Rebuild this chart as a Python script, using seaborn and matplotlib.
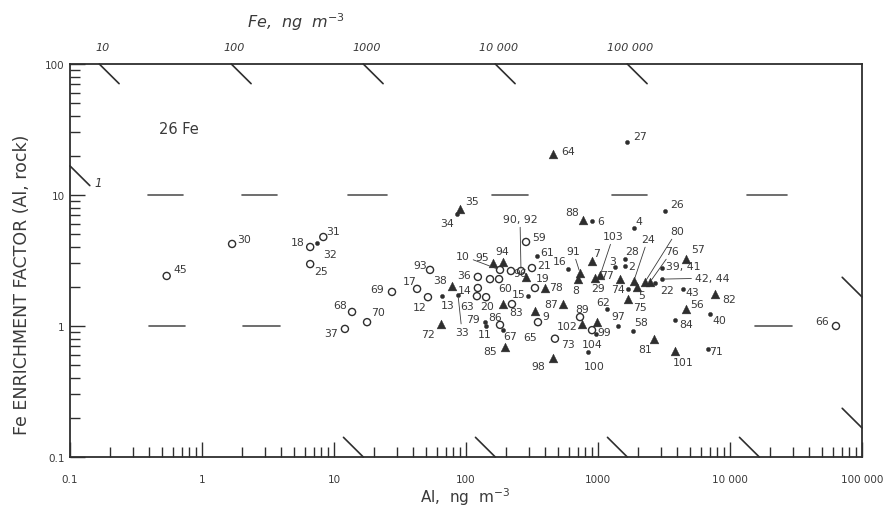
import matplotlib
matplotlib.use("Agg")
import matplotlib.pyplot as plt
import seaborn as sns
import pandas as pd
import numpy as np

# ---------------- data ----------------
circ_labels = ["45", "30", "18", "31", "25", "69", "68", "70", "37", "17", "93", "12", "66",
               "59", "90, 92", "21", "10", "96", "36", "", "60", "14", "63", "20", "86", "",
               "", "65", "73", "89", "99"]
circ_al = [0.54, 1.69, 6.6, 8.3, 6.6, 27.5, 13.7, 17.8, 12.1, 42.6, 53.4, 51.5, 63500,
           285, 261, 316, 181, 219, 123, 152, 178, 123, 121, 142, 181, 223,
           333, 351, 472, 731, 901]
circ_ef = [2.41, 4.23, 4.01, 4.78, 2.97, 1.82, 1.28, 1.07, 0.95, 1.92, 2.68, 1.66, 1.0,
           4.38, 2.63, 2.77, 2.68, 2.63, 2.37, 2.28, 2.28, 1.95, 1.69, 1.66, 1.02, 1.47,
           1.95, 1.07, 0.80, 1.17, 0.93]

tri_labels = ["35", "64", "88", "19", "94", "95", "38", "72", "85", "83", "78", "9", "87",
              "98", "102", "", "81", "75", "56", "101", "82", "57", "76", "24", "80", "5",
              "77", "7", "103", "91", "8", "29"]
tri_al = [90, 456, 769, 285, 191, 160, 78, 65, 197, 191, 396, 333, 543,
          456, 757, 982, 2650, 1690, 4640, 3830, 7690, 4640, 2480, 1870, 2270, 1970,
          1470, 901, 1040, 731, 705, 948]
tri_ef = [7.8, 20.6, 6.45, 2.37, 3.08, 3.03, 2.02, 1.04, 0.69, 1.47, 1.95, 1.30, 1.47,
          0.57, 1.04, 1.07, 0.80, 1.61, 1.35, 0.64, 1.75, 3.25, 2.17, 2.21, 2.17, 1.99,
          2.28, 3.13, 2.45, 2.54, 2.28, 2.33]

dot_labels = ["32", "34", "27", "6", "26", "4", "61", "13", "33", "79", "11", "67", "15",
              "104", "100", "97", "58", "62", "84", "40", "71", "43", "42, 44", "22",
              "39, 41", "74", "28", "2", "3", "16"]
dot_al = [7.4, 85, 1660, 901, 3220, 1870, 345, 66, 87, 139, 142, 191, 295,
          966, 840, 1420, 1840, 1170, 3830, 7050, 6800, 4400, 3050, 2700,
          3050, 1690, 1600, 1600, 1350, 593]
dot_ef = [4.30, 7.2, 25.4, 6.34, 7.55, 5.60, 3.42, 1.69, 1.72, 1.07, 1.0, 0.93, 1.69,
          0.87, 0.63, 1.0, 0.92, 1.35, 1.11, 1.24, 0.67, 1.92, 2.28, 2.13,
          2.77, 1.92, 3.25, 2.87, 2.82, 2.72]

x_ticks = [0.1, 1, 10, 100, 1000, 10000, 100000]
x_tick_labels = ["0.1", "1", "10", "100", "1000", "10 000", "100 000"]
y_ticks = [0.1, 1, 10, 100]
y_tick_labels = ["0.1", "1", "10", "100"]

fe_rock_ratio = 0.6          # Fe/Al in crustal rock
fe_top = [10, 100, 1000, 10000, 100000]
fe_top_labels = ["10", "100", "1000", "10 000", "100 000"]
fe_bottom = [1, 10, 100, 1000]
fe_left = [1]
fe_left_labels = ["1"]
fe_right = [10000, 100000]

dash_ef10 = [(0.39, 0.72), (2.01, 3.70), (12.8, 25.2), (157, 295), (1280, 2350), (13500, 27000)]
dash_ef1 = [(0.40, 0.74), (2.05, 3.9), (15400, 29500)]

# label placement (pixel offsets of label centre from the mark)
label_offsets = {
    "45": (14, 7), "30": (12, 5), "18": (-13, 5), "32": (13, -11), "31": (10, 6),
    "25": (11, -7), "69": (-15, 3), "68": (-12, 7), "70": (11, 10), "37": (-14, -4),
    "17": (-7, 8), "93": (-10, 5), "12": (-8, -10), "66": (-14, 5), "35": (12, 8),
    "34": (-10, -9), "64": (15, 3), "27": (13, 6), "88": (-11, 8), "6": (9, 0),
    "26": (12, 7), "4": (5, 7), "59": (13, 5), "90, 92": (-1, 52), "61": (10, 4),
    "21": (12, 3), "19": (17, -1), "94": (-1, 11), "95": (-11, 6), "10": (-37, 14),
    "96": (9, -2), "36": (-14, 2), "60": (6, -9), "38": (-12, 6), "14": (-13, -2),
    "13": (5, -9), "63": (-10, -10), "20": (1, -9), "33": (4, -37), "72": (-13, -10),
    "79": (-12, 3), "11": (-1, -8), "86": (-5, 8), "67": (7, -6), "85": (-15, -4),
    "83": (13, -8), "15": (-9, 2), "78": (11, 1), "9": (11, -5), "87": (-12, 0),
    "65": (-8, -15), "73": (13, -5), "98": (-15, -8), "89": (2, 8), "102": (-15, -2),
    "99": (12, -2), "104": (-4, -10), "100": (6, -14), "97": (0, 10), "58": (8, 9),
    "81": (-9, -10), "62": (-4, 7), "75": (12, -8), "56": (11, 5), "84": (11, -4),
    "40": (9, -6), "101": (8, -11), "71": (8, -2), "82": (14, -5), "43": (9, -3),
    "42, 44": (50, 1), "22": (12, -7), "39, 41": (21, 2), "57": (12, 10),
    "76": (22, 31), "24": (14, 42), "80": (32, 51), "5": (5, -8), "74": (-10, 0),
    "77": (-13, 4), "28": (7, 8), "2": (7, 0), "3": (-3, 6), "7": (5, 8),
    "103": (13, 39), "91": (-7, 22), "16": (-8, 8), "8": (-2, -11), "29": (3, -10),
}
leader = {"90, 92", "10", "33", "103", "91", "24", "80", "76", "42, 44"}

# ---------------- figure ----------------
sns.set_style("white")
plt.rcParams["font.family"] = ["DejaVu Sans"]
ink = "#2e2e2e"
txt = "#3a3a3a"

fig = plt.figure(figsize=(8.89, 5.10), dpi=100)
ax = fig.add_axes([70 / 889, 1 - 458 / 510, (862 - 70) / 889, (458 - 65) / 510])
ax.set_xscale("log")
ax.set_yscale("log")

df_c = pd.DataFrame({"Al": circ_al, "EF": circ_ef, "lab": circ_labels})
df_t = pd.DataFrame({"Al": tri_al, "EF": tri_ef, "lab": tri_labels})
df_d = pd.DataFrame({"Al": dot_al, "EF": dot_ef, "lab": dot_labels})

sns.scatterplot(data=df_c, x="Al", y="EF", ax=ax, marker="o", s=26,
                facecolors="none", edgecolor=ink, linewidth=1.0, zorder=3)
sns.scatterplot(data=df_t, x="Al", y="EF", ax=ax, marker="^", s=40,
                color=ink, edgecolor=ink, linewidth=0.3, zorder=3)
sns.scatterplot(data=df_d, x="Al", y="EF", ax=ax, marker="o", s=9,
                color=ink, edgecolor=ink, linewidth=0.3, zorder=3)

ax.set_xlim(0.1, 100000)
ax.set_ylim(0.1, 100)

for df in (df_c, df_t, df_d):
    for a, e, lab in zip(df["Al"], df["EF"], df["lab"]):
        if not lab:
            continue
        dx, dy = label_offsets.get(lab, (8, 6))
        kw = {}
        if lab in leader:
            kw["arrowprops"] = dict(arrowstyle="-", color=txt, lw=0.6,
                                    shrinkA=0, shrinkB=2)
        ax.annotate(lab, (a, e), xytext=(dx, dy), textcoords="offset pixels",
                    ha="center", va="center", fontsize=7.8, color=txt, zorder=4, **kw)

# reference dashes at EF = 10 and EF = 1
for x0, x1 in dash_ef10:
    ax.plot([x0, x1], [10, 10], color="#555555", lw=1.2, zorder=1)
for x0, x1 in dash_ef1:
    ax.plot([x0, x1], [1, 1], color="#555555", lw=1.2, zorder=1)

# constant-Fe diagonal marks (EF = Fe / (ratio * Al))
d = 10 ** 0.15
for fe, lab in zip(fe_top, fe_top_labels):
    a0 = fe / (fe_rock_ratio * 100)
    ax.plot([a0, a0 * d], [100, 100 / d], color=ink, lw=1.2, clip_on=False)
    ax.annotate(lab, (a0, 100), xytext=(3, 17), textcoords="offset pixels",
                ha="center", va="center", fontsize=8, style="italic", color=txt,
                annotation_clip=False)
for fe in fe_bottom:
    a0 = fe / (fe_rock_ratio * 0.1)
    ax.plot([a0, a0 / d], [0.1, 0.1 * d], color=ink, lw=1.2, clip_on=False)
for fe, lab in zip(fe_left, fe_left_labels):
    e0 = fe / (fe_rock_ratio * 0.1)
    ax.plot([0.1, 0.1 * d], [e0, e0 / d], color=ink, lw=1.2, clip_on=False)
    ax.annotate(lab, (0.1 * d, e0 / d), xytext=(8, 3), textcoords="offset pixels",
                ha="center", va="center", fontsize=8.5, style="italic", color=txt)
for fe in fe_right:
    e0 = fe / (fe_rock_ratio * 100000)
    ax.plot([100000, 100000 / d], [e0, e0 * d], color=ink, lw=1.2, clip_on=False)

# axes styling
for side in ["left", "bottom", "top", "right"]:
    ax.spines[side].set_color(ink)
    ax.spines[side].set_linewidth(1.3)
ax.set_xticks(x_ticks, labels=x_tick_labels)
ax.set_yticks(y_ticks, labels=y_tick_labels)
ax.tick_params(which="both", direction="in", bottom=True, left=True, top=False,
               right=False, color=ink, labelcolor=txt, labelsize=7.5)
ax.tick_params(which="major", length=11, width=1.0)
ax.tick_params(which="minor", length=7, width=1.0)
ax.tick_params(axis="x", which="major", pad=12)
ax.tick_params(axis="y", which="major", pad=4)
ax.set_xlabel("")
ax.set_ylabel("")

ax.text(0.138, 0.835, "26 Fe", transform=ax.transAxes, fontsize=10.5, color=txt,
        ha="center", va="center")

fig.text(296 / 889, 1 - 22 / 510, "Fe,  ng  m$^{-3}$", style="italic", fontsize=11.5,
         color=txt, ha="center", va="center")
fig.text(465 / 889, 1 - 497 / 510, "Al,  ng  m$^{-3}$", fontsize=11, color=txt,
         ha="center", va="center")
fig.text(22 / 889, 1 - 285 / 510, "Fe ENRICHMENT FACTOR (Al, rock)", rotation=90,
         fontsize=12.5, color=txt, ha="center", va="center")

fig.savefig("out.png", dpi=100, facecolor="white")
